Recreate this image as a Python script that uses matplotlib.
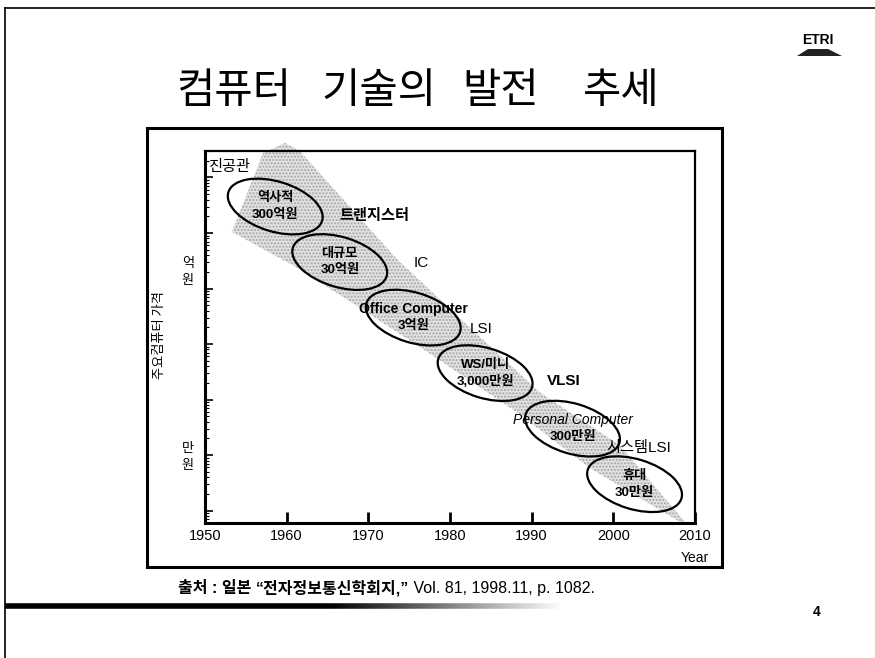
import numpy as np
import matplotlib.pyplot as plt
from matplotlib.patches import Ellipse, Rectangle, Polygon
from matplotlib.transforms import ScaledTranslation
from matplotlib.collections import LineCollection
from matplotlib.ticker import LogLocator, NullFormatter

KR = ['Noto Sans CJK KR', 'DejaVu Sans']
LAT = ['Liberation Sans', 'Noto Sans CJK KR', 'DejaVu Sans']
plt.rcParams['font.family'] = LAT

# price of a typical machine per era (won)
era_names = ['역사적', '대규모', 'Office Computer', 'WS/미니', 'Personal Computer', '휴대']
era_price_text = ['300억원', '30억원', '3억원', '3,000만원', '300만원', '30만원']
era_years = [1958.6, 1966.5, 1975.5, 1984.3, 1995.0, 2002.6]
era_prices = [3e10, 3e9, 3e8, 3e7, 3e6, 3e5]

# device technology of each era
tech_names = ['진공관', '트랜지스터', 'IC', 'LSI', 'VLSI', '시스템LSI']
tech_years = [1950.4, 1966.5, 1975.5, 1982.4, 1991.9, 1999.2]
tech_prices = [1.55e11, 2.0e10, 2.9e9, 1.9e8, 2.2e7, 1.33e6]
tech_bold = [False, True, False, False, True, False]

# shaded trend band
band_upper_years = [1957.1, 1959.8, 1961.6, 1973.5, 1982.1, 1991.0, 2000.8, 2008.8]
band_upper_prices = [2.75e11, 4.2e11, 3.0e11, 3.4e9, 2.2e8, 1.35e7, 1.5e6, 6.2e4]
band_lower_years = [2008.8, 1997.1, 1988.2, 1977.9, 1968.6, 1960.8, 1953.3]
band_lower_prices = [5.5e4, 5.9e5, 5.9e6, 6.2e7, 4.9e8, 2.6e9, 1.05e10]

year_ticks = [1950, 1960, 1970, 1980, 1990, 2000, 2010]

title_words = ['컴퓨터', '기술의', '발전', '추세']
source_parts = ['출처 : 일본 ', '“전자정보통신학회지,”', ' Vol. 81, 1998.11, p. 1082.']

W, H = 875, 658
fig = plt.figure(figsize=(W / 100, H / 100), dpi=100)
fig.patch.set_facecolor('white')


def fx(px):
    return px / W


def fy(py):
    return 1 - py / H


# slide frame (top and left edges only)
fig.add_artist(plt.Line2D([fx(5), fx(875)], [fy(8), fy(8)], color='black', lw=1.2))
fig.add_artist(plt.Line2D([fx(5), fx(5)], [fy(8), fy(658)], color='black', lw=1.2))

# title, word by word
title_x = [234, 379, 501, 621]
for word, x in zip(title_words, title_x):
    fig.text(fx(x), fy(92), word, family=KR, fontsize=30, ha='center', va='center')

# ETRI logo
fig.text(fx(818), fy(40), 'ETRI', fontsize=10, weight='bold', ha='center', va='center',
         family=['Liberation Sans'])
fig.add_artist(Polygon([[fx(797), fy(56)], [fx(808), fy(49)], [fx(828), fy(49)], [fx(842), fy(56)]],
                       closed=True, transform=fig.transFigure, color='#222222', lw=0))

# chart frame
fig.add_artist(Rectangle((fx(147), fy(567)), fx(722) - fx(147), fy(128) - fy(567),
                         transform=fig.transFigure, fill=False, ec='black', lw=2.2))

ax = fig.add_axes([fx(205), fy(523), fx(695) - fx(205), fy(151) - fy(523)])
ax.set_yscale('log')
ax.set_xlim(1950, 2010)
ax.set_ylim(6e4, 3e11)

# trend band
band_x = band_upper_years + band_lower_years
band_y = band_upper_prices + band_lower_prices
ax.fill(band_x, band_y, facecolor='#e2e2e2', edgecolor='#a5a5a5', hatch='.....',
        lw=0, clip_on=False, zorder=1)

# era ellipses, sized in inches around each data point
for yr, pr in zip(era_years, era_prices):
    tr = fig.dpi_scale_trans + ScaledTranslation(yr, pr, ax.transData)
    ax.add_patch(Ellipse((0, 0), 0.98, 0.50, angle=-17, transform=tr, fill=False,
                         ec='black', lw=1.6, zorder=3, clip_on=False))

for name, ptxt, yr, pr in zip(era_names, era_price_text, era_years, era_prices):
    style = 'normal'
    weight = 'bold'
    size = 9.5
    if name == 'Personal Computer':
        style, weight, size = 'italic', 'normal', 10
    elif name == 'Office Computer':
        size = 10
    ax.annotate(name, (yr, pr), xytext=(0, 6), textcoords='offset points', ha='center',
                va='center', fontsize=size, weight=weight, style=style, zorder=4)
    ax.annotate(ptxt, (yr, pr), xytext=(0, -6), textcoords='offset points', ha='center',
                va='center', fontsize=9.5, weight='bold', zorder=4)

for name, yr, pr, b in zip(tech_names, tech_years, tech_prices, tech_bold):
    ax.text(yr, pr, name, ha='left', va='center', fontsize=11,
            weight='bold' if b else 'normal', zorder=4)

ax.set_xticks(year_ticks)
ax.set_xticklabels([str(y) for y in year_ticks], fontsize=10.5)
ax.tick_params(axis='x', direction='in', length=8, width=2, pad=4, top=False)
ax.yaxis.set_major_locator(LogLocator(base=10))
ax.yaxis.set_minor_locator(LogLocator(base=10, subs=np.arange(2, 10)))
ax.yaxis.set_major_formatter(NullFormatter())
ax.yaxis.set_minor_formatter(NullFormatter())
ax.tick_params(axis='y', which='major', direction='in', length=6, width=1.2, right=False)
ax.tick_params(axis='y', which='minor', direction='in', length=3, width=0.8, right=False)
for sp in ax.spines.values():
    sp.set_linewidth(1.6)
ax.spines['left'].set_linewidth(2.2)
ax.spines['bottom'].set_linewidth(2.2)

ax.text(1.0, -0.095, 'Year', transform=ax.transAxes, ha='center', va='center', fontsize=10)

# axis title and unit marks
fig.text(fx(160), fy(335), '주요컴퓨터 가격', rotation=90, family=KR, fontsize=9.5,
         ha='center', va='center')
fig.text(fx(188), fy(272), '억\n원', family=KR, fontsize=9.5, ha='center', va='center',
         linespacing=1.4)
fig.text(fx(188), fy(457), '만\n원', family=KR, fontsize=9.5, ha='center', va='center',
         linespacing=1.4)

# source line, pieces chained left to right
first = fig.text(fx(178), fy(588), source_parts[0], fontsize=11.5, weight='bold',
                 va='center', ha='left')
second = ax.annotate(source_parts[1], xy=(1, 0.5), xycoords=first, va='center', ha='left',
                     fontsize=11.5, weight='bold', annotation_clip=False)
ax.annotate(source_parts[2], xy=(1, 0.5), xycoords=second, va='center', ha='left',
            fontsize=11.5, annotation_clip=False)

# fading rule under the source
xs = np.linspace(fx(5), fx(560), 120)
segs = [[(xs[i], fy(606)), (xs[i + 1], fy(606))] for i in range(len(xs) - 1)]
fade = np.clip((xs[:-1] - fx(330)) / (fx(560) - fx(330)), 0, 1)
cols = [(f, f, f, 1) for f in fade]
fig.add_artist(LineCollection(segs, colors=cols, linewidths=4, transform=fig.transFigure))

fig.text(fx(817), fy(612), '4', fontsize=10, weight='bold', ha='center', va='center')

fig.savefig('out.png', dpi=100)
